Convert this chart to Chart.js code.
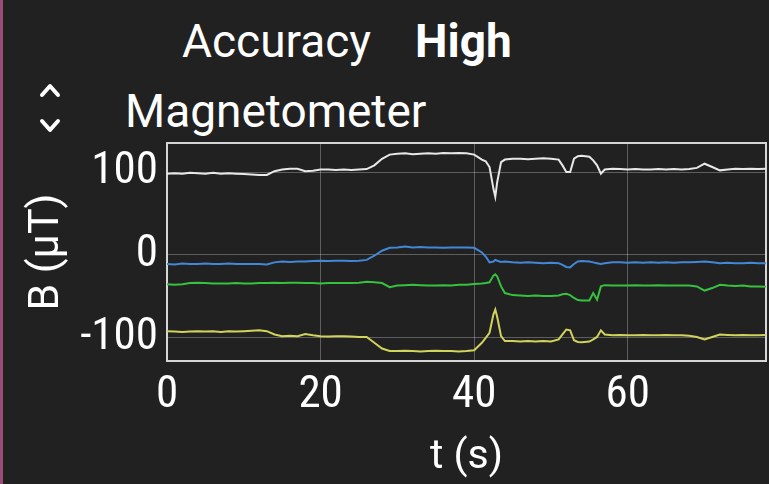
<!DOCTYPE html>
<html>
<head>
<meta charset="utf-8">
<script src="https://cdn.jsdelivr.net/npm/chart.js@4"></script>
<style>
  body { margin: 0; background: #212121; width: 769px; height: 484px; overflow: hidden; position: relative; font-family: Roboto, sans-serif; color: #fff; }
  .bar { position: absolute; left: 0; top: 0; width: 3px; height: 484px; background: #9b4d78; }
  .txt { position: absolute; font-size: 46px; line-height: 46px; white-space: nowrap; }
  #chev { position: absolute; left: 36px; top: 78px; }
  canvas { position: absolute; left: 0; top: 0; }
</style>
</head>
<body>
<div class="bar"></div>
<div class="txt" style="left:182px; top:18px;">Accuracy</div>
<div class="txt" style="left:415px; top:18px; font-weight:bold;">High</div>
<div class="txt" style="left:125px; top:88px;">Magnetometer</div>
<svg id="chev" width="30" height="60">
  <polyline points="6,17 14,8 22,17" fill="none" stroke="#fff" stroke-width="4" stroke-linecap="round" stroke-linejoin="round"/>
  <polyline points="6,43 14,52 22,43" fill="none" stroke="#fff" stroke-width="4" stroke-linecap="round" stroke-linejoin="round"/>
</svg>
<canvas id="magChart" width="769" height="484"></canvas>
<script>
// time axis (s)
const times = [
  0, 1, 2, 3, 4, 5, 6, 7, 8, 9, 10, 11, 12, 13,
  14, 15, 16, 17, 18, 19, 20, 21, 22, 23, 24, 25,
  26, 27, 28, 29, 30, 31, 32, 33, 34, 35, 36, 37, 38, 39, 40, 41,
  41.5, 42, 42.5, 42.75, 43, 43.5, 44,
  45, 46, 47, 48, 49, 50, 51,
  51.5, 52, 52.5, 53, 53.5, 54,
  55, 55.5, 56, 56.5, 57,
  58, 59, 60, 61, 62, 63, 64, 65, 66, 67, 68, 69, 70, 71, 72, 73, 74, 75, 76, 77, 78,
];

// B (uT)
const whiteVals = [
  98, 98.5, 98, 99, 98.5, 98, 99, 98, 98.5, 98, 97.5, 97, 96.5, 96.5,
  101, 103, 104, 104, 101, 101.5, 103, 103, 102.5, 103, 102.5, 103,
  103.5, 108, 116, 121, 122, 122.5, 121.5, 122, 122.5, 122, 123, 122.5, 123, 122.5, 121, 115,
  113, 106, 80, 70, 88, 112, 115,
  116, 116, 115.5, 116, 116.5, 116, 115,
  108, 100, 100, 116, 119, 119.5,
  118.5, 114, 108, 98, 103,
  104, 103.5, 103, 103.5, 103, 103, 103.5, 103, 103.5, 103, 103.5, 105, 110, 106, 102, 103, 104, 103.5, 104, 103.5, 104,
];
const blueVals = [
  -11, -11.5, -10.5, -11, -11, -10.5, -11, -11, -10.5, -11, -11, -11, -11, -11.5,
  -9, -8, -8.5, -8, -8, -7.5, -7, -7.5, -7, -7, -7.5, -7,
  -6, -1, 5, 8.5, 9, 10, 9, 9.5, 9, 9, 8.5, 9, 9, 9, 8.5, 3,
  -2, -9, -8, -6, -7, -8.5, -8,
  -9, -9.5, -9, -9.5, -10, -9.5, -10,
  -12, -14.5, -15, -11, -8, -7.5,
  -8, -9, -10, -11, -10,
  -9, -9, -9.5, -9, -9.5, -9, -9.5, -9, -9.5, -9, -9, -8.5, -8, -9, -10, -9.5, -10, -10, -9.5, -10, -10,
];
const greenVals = [
  -35.5, -36, -35.5, -34, -33.5, -34, -34.5, -34.5, -34.5, -34, -34.5, -34.5, -34, -34,
  -33.5, -34, -33.5, -33.5, -34, -34, -34.5, -34, -34, -34, -34, -33.5,
  -32.5, -33, -34, -39, -37, -36.5, -36, -36.5, -37, -37, -36.5, -37, -36, -36, -35, -34.5,
  -34, -33, -25, -23.5, -26, -38, -46,
  -48.5, -49, -49.5, -49, -49.5, -49.5, -49,
  -47.5, -47, -48.5, -52, -54.5, -55,
  -55, -46, -54, -38, -36.5,
  -37, -37, -37, -36.5, -37, -37, -36.5, -37, -37, -37, -37, -38, -43, -40, -36, -37, -37.5, -37, -38, -38, -38.5,
];
const yellowVals = [
  -92, -92.5, -93, -92.5, -92, -92.5, -92, -93, -92, -92.5, -92, -91.5, -91, -92,
  -96, -98, -97.5, -98, -95.5, -97, -98, -98.5, -98, -98, -98.5, -99,
  -99, -106, -113, -116, -116, -115.5, -116, -116.5, -116, -115.5, -116, -116, -116.5, -116, -115, -106,
  -100, -94, -72, -66, -75, -98, -104,
  -104, -104.5, -104, -104.5, -104, -104.5, -102,
  -96, -90, -91, -103, -105, -105.5,
  -104.5, -102, -99, -91, -96,
  -97, -96.5, -97, -97, -96.5, -97, -97, -96.5, -97, -97, -97.5, -99, -102, -99, -96, -96.5, -97, -96.5, -97, -97, -96.5,
];

const xTickValues = [0, 20, 40, 60];
const yTickValues = [-100, 0, 100];

function toPoints(vals) {
  return vals.map((v, i) => ({ x: times[i], y: v }));
}

const frameBox = {
  id: "frameBox",
  beforeDatasetsDraw(chart) {
    const { ctx, chartArea: a } = chart;
    ctx.save();
    ctx.strokeStyle = "#d6d6d6";
    ctx.lineWidth = 2;
    ctx.strokeRect(a.left, a.top, a.right - a.left, a.bottom - a.top);
    ctx.restore();
  },
};

const tickFont = { family: "'Liberation Sans Narrow', 'Roboto Condensed', Roboto", size: 45 };
const gridColor = "rgba(255,255,255,0.28)";

new Chart(document.getElementById("magChart"), {
  type: "line",
  data: {
    datasets: [
      { label: "white", data: toPoints(whiteVals), borderColor: "#e8e8e8" },
      { label: "blue", data: toPoints(blueVals), borderColor: "#4287d8" },
      { label: "green", data: toPoints(greenVals), borderColor: "#36c23f" },
      { label: "yellow", data: toPoints(yellowVals), borderColor: "#d2d35c" },
    ],
  },
  options: {
    responsive: false,
    animation: false,
    devicePixelRatio: 1,
    layout: { padding: { top: 143, right: 3, left: 0, bottom: 0 } },
    elements: {
      point: { radius: 0 },
      line: { borderWidth: 2, tension: 0 },
    },
    plugins: { legend: { display: false }, tooltip: { enabled: false } },
    scales: {
      x: {
        type: "linear",
        min: 0,
        max: 78,
        afterBuildTicks: (s) => { s.ticks = xTickValues.map((v) => ({ value: v })); },
        afterFit: (s) => { s.height = 123; },
        ticks: { color: "#fff", font: tickFont, padding: 8, maxRotation: 0 },
        grid: { color: gridColor, drawTicks: false },
        border: { display: false },
        title: { display: true, text: "t (s)", color: "#fff", font: { family: "Roboto", size: 41 }, padding: { top: 0, bottom: 2 } },
      },
      y: {
        min: -128,
        max: 135,
        afterBuildTicks: (s) => { s.ticks = yTickValues.map((v) => ({ value: v })); },
        afterFit: (s) => { s.width = 167; },
        ticks: { color: "#fff", font: tickFont, padding: 9 },
        grid: { color: gridColor, drawTicks: false },
        border: { display: false },
        title: { display: true, text: "B (μT)", color: "#fff", font: { family: "Roboto", size: 43 }, padding: { top: 21, bottom: 0 } },
      },
    },
  },
  plugins: [frameBox],
});
</script>
</body>
</html>
